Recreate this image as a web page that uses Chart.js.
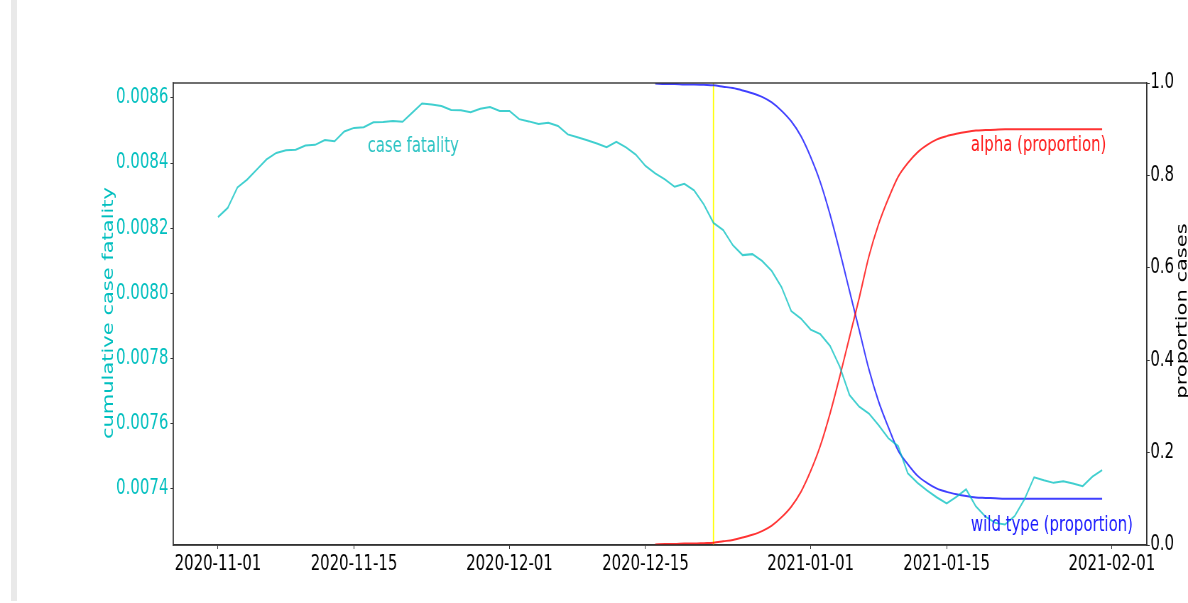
<!DOCTYPE html>
<html>
<head>
<meta charset="utf-8">
<script src="https://cdn.jsdelivr.net/npm/chart.js@4.4.0/dist/chart.umd.min.js"></script>
<style>
  html, body { margin: 0; padding: 0; background: #fff; overflow: hidden; }
  #strip { position: absolute; left: 11px; top: 0; width: 6px; height: 601px; background: #e9e9e9; }
  /* source figure is horizontally squeezed, so draw wide and squeeze it back */
  #wrap { position: absolute; left: 0; top: 0; width: 1673px; height: 603px; transform: scaleX(0.7101); transform-origin: 0 0; }
</style>
</head>
<body>
<div id="strip"></div>
<div id="wrap"><canvas id="chart" width="1673" height="603"></canvas></div>
<script>
// daily cumulative case fatality, 2020-11-01 .. 2021-01-31
const cfr = [
    0.008234, 0.008262, 0.008325, 0.008349, 0.008380, 0.008411, 0.008431, 0.008439, 0.008441, 0.008454,
    0.008456, 0.008471, 0.008467, 0.008497, 0.008508, 0.008510, 0.008525, 0.008526, 0.008529, 0.008527,
    0.008555, 0.008583, 0.008580, 0.008575, 0.008563, 0.008562, 0.008556, 0.008567, 0.008572, 0.008560,
    0.008560, 0.008535, 0.008528, 0.008520, 0.008524, 0.008514, 0.008488, 0.008479, 0.008470, 0.008460,
    0.008449, 0.008465, 0.008448, 0.008426, 0.008391, 0.008368, 0.008350, 0.008327, 0.008336, 0.008316,
    0.008273, 0.008216, 0.008194, 0.008147, 0.008117, 0.008120, 0.008099, 0.008068, 0.008019, 0.007945,
    0.007922, 0.007888, 0.007874, 0.007838, 0.007774, 0.007687, 0.007651, 0.007630, 0.007594, 0.007554,
    0.007530, 0.007446, 0.007417, 0.007393, 0.007372, 0.007354, 0.007374, 0.007397, 0.007345, 0.007313,
    0.007294, 0.007289, 0.007315, 0.007366, 0.007434, 0.007425, 0.007417, 0.007422, 0.007415, 0.007407,
    0.007436, 0.007456
];

// variant proportions, daily from 2020-12-16
const variantStartDay = 45;
const alphaShare = [
    0.001, 0.002, 0.002, 0.003, 0.003, 0.004, 0.005, 0.008, 0.011, 0.016,
    0.022, 0.030, 0.042, 0.060, 0.083, 0.115, 0.160, 0.215, 0.285, 0.365,
    0.450, 0.535, 0.625, 0.695, 0.750, 0.797, 0.827, 0.850, 0.866, 0.878,
    0.885, 0.890, 0.894, 0.897, 0.898, 0.899, 0.900, 0.900, 0.900, 0.900,
    0.900, 0.900, 0.900, 0.900, 0.900, 0.900, 0.900
];
const wildShare = [
    0.999, 0.998, 0.998, 0.997, 0.997, 0.996, 0.995, 0.992, 0.989, 0.984,
    0.978, 0.970, 0.958, 0.940, 0.917, 0.885, 0.840, 0.785, 0.715, 0.635,
    0.550, 0.465, 0.380, 0.310, 0.255, 0.205, 0.175, 0.150, 0.134, 0.122,
    0.115, 0.110, 0.106, 0.103, 0.102, 0.101, 0.100, 0.100, 0.100, 0.100,
    0.100, 0.100, 0.100, 0.100, 0.100, 0.100, 0.100
];

const markerDay = 51; // 2020-12-22
const xTickDays = [0, 14, 30, 44, 61, 75, 92];
const xTickLabels = ['2020-11-01', '2020-11-15', '2020-12-01', '2020-12-15', '2021-01-01', '2021-01-15', '2021-02-01'];
const cfrTicks = [0.0074, 0.0076, 0.0078, 0.0080, 0.0082, 0.0084, 0.0086];
const shareTicks = [0, 0.2, 0.4, 0.6, 0.8, 1.0];

const frame = '#333333';
const cyanText = '#00bfbf';

Chart.defaults.font.family = '"DejaVu Sans", sans-serif';
Chart.defaults.font.size = 21;
Chart.defaults.color = '#000';

// frame, in-plot labels and axis titles
const overlay = {
    id: 'overlay',
    afterDatasetsDraw(chart) {
        const { ctx, chartArea: a, scales } = chart;
        ctx.save();
        ctx.strokeStyle = frame;
        ctx.lineWidth = 1.4;
        ctx.strokeRect(a.left, a.top, a.right - a.left, a.bottom - a.top);

        ctx.font = '21px "DejaVu Sans"';
        ctx.textAlign = 'left';
        ctx.textBaseline = 'middle';
        ctx.fillStyle = '#2ec4c4';
        ctx.fillText('case fatality', scales.x.getPixelForValue(15.4), scales.y.getPixelForValue(0.008452));
        ctx.fillStyle = '#ff1a1a';
        ctx.fillText('alpha (proportion)', scales.x.getPixelForValue(77.5), scales.y2.getPixelForValue(0.864));
        ctx.fillStyle = '#1a1aff';
        ctx.fillText('wild type (proportion)', scales.x.getPixelForValue(77.5), scales.y2.getPixelForValue(0.043));

        const mid = (a.top + a.bottom) / 2;
        ctx.textAlign = 'center';
        ctx.textBaseline = 'alphabetic';
        ctx.save();
        ctx.translate(159, mid - 1);
        ctx.rotate(-Math.PI / 2);
        ctx.fillStyle = cyanText;
        ctx.fillText('cumulative case fatality', 0, 0);
        ctx.restore();
        ctx.save();
        ctx.translate(1671, mid - 3);
        ctx.rotate(-Math.PI / 2);
        ctx.fillStyle = '#000';
        ctx.fillText('proportion cases', 0, 0);
        ctx.restore();
        ctx.restore();
    }
};

const axisGrid = { drawOnChartArea: false, drawTicks: true, tickLength: 4, color: frame };
const axisBorder = { display: true, color: frame, width: 1.4 };

new Chart(document.getElementById('chart'), {
    type: 'line',
    data: {
        datasets: [
            {
                label: 'case fatality',
                data: cfr.map((v, i) => ({ x: i, y: v })),
                yAxisID: 'y',
                borderColor: 'rgba(0, 191, 191, 0.75)',
                borderWidth: 2,
                pointRadius: 0,
                tension: 0,
            },
            {
                label: 'alpha (proportion)',
                data: alphaShare.map((v, i) => ({ x: variantStartDay + i, y: v })),
                yAxisID: 'y2',
                borderColor: 'rgba(255, 0, 0, 0.8)',
                borderWidth: 2,
                pointRadius: 0,
                cubicInterpolationMode: 'monotone',
            },
            {
                label: 'wild type (proportion)',
                data: wildShare.map((v, i) => ({ x: variantStartDay + i, y: v })),
                yAxisID: 'y2',
                borderColor: 'rgba(0, 0, 255, 0.75)',
                borderWidth: 2,
                pointRadius: 0,
                cubicInterpolationMode: 'monotone',
            },
            {
                label: 'marker',
                data: [{ x: markerDay, y: 0 }, { x: markerDay, y: 1 }],
                yAxisID: 'y2',
                borderColor: '#ffff00',
                borderWidth: 1.8,
                pointRadius: 0,
            }
        ]
    },
    options: {
        responsive: false,
        animation: false,
        devicePixelRatio: 1,
        layout: { padding: { top: 83, right: 0, bottom: 0, left: 0 } },
        plugins: { legend: { display: false }, tooltip: { enabled: false } },
        scales: {
            x: {
                type: 'linear',
                min: -4.6,
                max: 95.6,
                afterBuildTicks: s => { s.ticks = xTickDays.map(v => ({ value: v })); },
                afterFit: s => { s.height = 58; },
                ticks: {
                    autoSkip: false,
                    maxRotation: 0,
                    padding: 3,
                    color: '#000',
                    callback: v => xTickLabels[xTickDays.indexOf(v)]
                },
                grid: axisGrid,
                border: axisBorder,
            },
            y: {
                position: 'left',
                min: 0.007226,
                max: 0.008646,
                afterBuildTicks: s => { s.ticks = cfrTicks.map(v => ({ value: v })); },
                afterFit: s => { s.width = 244; },
                ticks: { color: cyanText, padding: 3, callback: v => v.toFixed(4) },
                grid: axisGrid,
                border: axisBorder,
            },
            y2: {
                position: 'right',
                min: 0,
                max: 1,
                afterBuildTicks: s => { s.ticks = shareTicks.map(v => ({ value: v })); },
                afterFit: s => { s.width = 58; },
                ticks: { color: '#000', padding: 1, callback: v => v.toFixed(1) },
                grid: axisGrid,
                border: axisBorder,
            }
        }
    },
    plugins: [overlay]
});
</script>
</body>
</html>
